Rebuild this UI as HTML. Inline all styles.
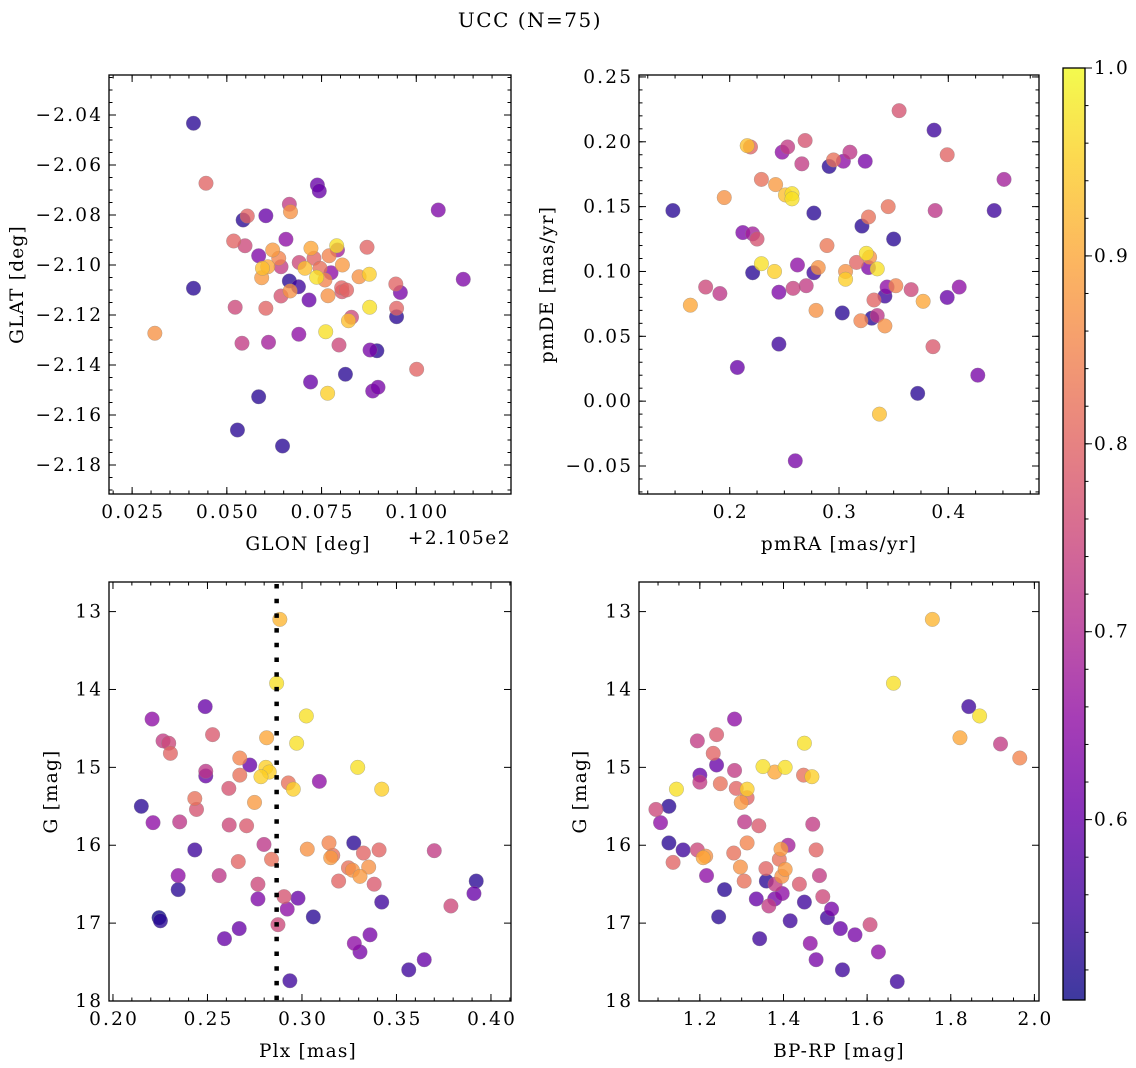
<!DOCTYPE html>
<html><head><meta charset="utf-8"><style>
body{margin:0;background:#fff}
svg{display:block}
svg text{font-family:"DejaVu Serif","Liberation Serif",serif}
</style></head><body>
<svg id="fig" width="1136" height="1068" viewBox="0 0 1136 1068" xmlns="http://www.w3.org/2000/svg">
<defs>
<linearGradient id="plasma" x1="0" y1="1" x2="0" y2="0">
<stop offset="0" stop-color="#0d0887"/><stop offset="0.1" stop-color="#41049d"/><stop offset="0.2" stop-color="#6a00a8"/><stop offset="0.3" stop-color="#8f0da4"/><stop offset="0.4" stop-color="#b12a90"/><stop offset="0.5" stop-color="#cc4778"/><stop offset="0.6" stop-color="#e16462"/><stop offset="0.7" stop-color="#f2844b"/><stop offset="0.8" stop-color="#fca636"/><stop offset="0.9" stop-color="#fcce25"/><stop offset="1" stop-color="#f0f921"/>
</linearGradient>
</defs>
<text x="530" y="27" font-size="20" letter-spacing="1.5" text-anchor="middle" font-family="DejaVu Serif, Liberation Serif, serif">UCC (N=75)</text>
</svg>
<script>
// ---------- data ----------
const cMin = 0.504, cMax = 1.0;
// Panel 1: GLON offset (from 210.5) vs GLAT
const p1x = [.0412,.0445,.0310,.0412,.0543,.0554,.0603,.0665,.0668,.0739,.0744,.1058,.0518,.0548,.0656,.0584,.0621,.0637,.0643,.0594,.0608,.0592,.0665,.0689,.0667,.0643,.0691,.0706,.0722,.0730,.0737,.0746,.0759,.0775,.0770,.0790,.0792,.0805,.0717,.0767,.0803,.0816,.0804,.0849,.0876,.0870,.0946,.0958,.0948,.0948,.1124,.0522,.0603,.0877,.0829,.0821,.0540,.0610,.0690,.0761,.0796,.0878,.0896,.1001,.0813,.0721,.0766,.0885,.0899,.0584,.0528,.0647];
const p1y = [-2.0433,-2.0673,-2.1273,-2.1093,-2.082,-2.0804,-2.0803,-2.0757,-2.0787,-2.068,-2.0704,-2.078,-2.0904,-2.0923,-2.0897,-2.0963,-2.094,-2.0973,-2.1007,-2.1013,-2.1007,-2.1051,-2.1064,-2.1087,-2.1104,-2.1124,-2.099,-2.1013,-2.0933,-2.0973,-2.1049,-2.1013,-2.106,-2.1031,-2.0963,-2.0923,-2.094,-2.1,-2.114,-2.1123,-2.1091,-2.11,-2.1107,-2.1047,-2.1037,-2.0929,-2.1076,-2.111,-2.1173,-2.1207,-2.1057,-2.1169,-2.1173,-2.1169,-2.1209,-2.1223,-2.1313,-2.1309,-2.1277,-2.1267,-2.132,-2.134,-2.1343,-2.1417,-2.1437,-2.1468,-2.1513,-2.1504,-2.1489,-2.1527,-2.166,-2.1724];
const p1c = [.53,.8,.87,.53,.53,.8,.6,.73,.87,.6,.6,.63,.8,.75,.65,.63,.88,.85,.73,.93,.9,.88,.53,.55,.87,.77,.75,.93,.9,.8,.97,.82,.85,.65,.85,.97,.68,.88,.6,.87,.8,.8,.78,.87,.95,.8,.8,.62,.8,.53,.63,.75,.8,.97,.75,.93,.73,.68,.65,.97,.75,.62,.53,.8,.53,.6,.95,.62,.62,.53,.53,.53];
// Panel 2: pmRA vs pmDE
const p2x = [.148,.164,.178,.191,.195,.207,.212,.219,.216,.221,.221,.225,.229,.229,.241,.242,.245,.245,.248,.253,.251,.257,.257,.258,.260,.262,.266,.269,.270,.277,.277,.281,.279,.289,.291,.295,.304,.303,.306,.306,.310,.316,.320,.321,.324,.325,.327,.327,.328,.330,.332,.335,.335,.337,.342,.342,.344,.345,.350,.352,.355,.366,.372,.377,.386,.387,.388,.399,.399,.410,.427,.442,.451];
const p2y = [.147,.074,.088,.083,.157,.026,.130,.196,.197,.099,.129,.125,.171,.106,.100,.167,.084,.044,.192,.196,.159,.160,.156,.087,-.046,.105,.183,.201,.089,.145,.099,.103,.070,.120,.181,.186,.185,.068,.100,.094,.192,.107,.062,.135,.185,.114,.142,.103,.111,.064,.078,.066,.102,-.010,.058,.081,.088,.150,.125,.089,.224,.086,.006,.077,.042,.209,.147,.080,.190,.088,.020,.147,.171];
const p2c = [.53,.9,.75,.72,.87,.6,.63,.8,.93,.53,.68,.77,.82,.97,.95,.88,.63,.55,.65,.73,.93,.97,.97,.74,.62,.65,.73,.77,.73,.53,.55,.87,.87,.83,.53,.82,.65,.53,.87,.95,.72,.8,.85,.53,.62,.97,.82,.63,.87,.53,.8,.72,.97,.93,.87,.55,.65,.82,.53,.85,.77,.75,.53,.9,.78,.55,.72,.6,.8,.65,.62,.55,.68];
// Panel 3: Plx vs G
const p3x = [.2883,.2866,.2488,.2207,.3023,.2527,.2265,.2295,.2304,.2813,.2972,.2671,.2724,.2809,.2827,.2783,.2491,.2491,.2671,.2928,.2954,.3092,.3295,.3422,.2613,.2433,.2442,.2749,.2150,.2212,.2353,.2615,.2707,.2799,.2433,.2663,.2839,.3028,.3143,.3163,.3152,.3274,.3325,.3408,.3700,.3246,.3267,.3353,.3307,.3194,.3382,.3922,.3910,.2345,.2562,.2767,.2345,.2767,.2905,.2979,.2922,.3422,.3788,.2244,.2251,.3060,.2873,.2668,.2590,.3360,.3277,.3307,.3647,.3565,.2936];
const p3y = [13.10,13.92,14.22,14.38,14.34,14.58,14.66,14.69,14.82,14.62,14.69,14.88,14.97,15.00,15.06,15.12,15.05,15.11,15.10,15.20,15.28,15.18,15.00,15.28,15.27,15.40,15.54,15.45,15.50,15.71,15.70,15.74,15.75,15.99,16.06,16.21,16.18,16.05,15.97,16.13,16.16,15.97,16.10,16.06,16.07,16.29,16.32,16.28,16.40,16.46,16.50,16.46,16.62,16.39,16.39,16.50,16.57,16.69,16.66,16.68,16.82,16.73,16.78,16.93,16.97,16.92,17.02,17.07,17.20,17.15,17.26,17.37,17.47,17.60,17.74];
const p3c = [.92,.97,.6,.65,.97,.78,.73,.75,.8,.9,.97,.85,.6,.95,.95,.95,.72,.6,.82,.82,.95,.65,.97,.95,.77,.82,.77,.88,.53,.65,.72,.75,.78,.72,.55,.8,.82,.87,.85,.82,.88,.53,.8,.8,.73,.82,.87,.87,.88,.8,.78,.53,.6,.65,.72,.75,.53,.63,.77,.6,.65,.55,.75,.5,.53,.53,.75,.6,.6,.62,.65,.62,.6,.55,.55];
const plxMean = 0.2866;
// Panel 4: BP-RP vs G
const p4x = [1.756,1.663,1.843,1.869,1.822,1.919,1.965,1.283,1.194,1.240,1.232,1.240,1.450,1.351,1.379,1.404,1.448,1.468,1.200,1.200,1.283,1.249,1.144,1.287,1.313,1.313,1.299,1.126,1.095,1.106,1.307,1.341,1.470,1.126,1.160,1.194,1.214,1.208,1.136,1.216,1.281,1.313,1.297,1.306,1.358,1.411,1.394,1.390,1.404,1.396,1.478,1.486,1.359,1.380,1.438,1.259,1.335,1.379,1.397,1.365,1.450,1.494,1.515,1.245,1.416,1.505,1.536,1.571,1.607,1.343,1.464,1.478,1.627,1.541,1.672];
const p4y = [13.10,13.92,14.22,14.34,14.62,14.70,14.88,14.38,14.66,14.58,14.82,14.97,14.69,14.99,15.06,15.00,15.10,15.12,15.10,15.19,15.04,15.21,15.28,15.27,15.28,15.39,15.45,15.50,15.54,15.71,15.70,15.75,15.73,15.97,16.06,16.06,16.14,16.16,16.22,16.39,16.10,15.97,16.28,16.46,16.30,16.00,16.05,16.18,16.31,16.40,16.06,16.39,16.46,16.50,16.50,16.57,16.69,16.69,16.62,16.78,16.73,16.66,16.82,16.92,16.97,16.93,17.07,17.15,17.02,17.20,17.26,17.47,17.37,17.60,17.75];
const p4c = [.92,.97,.55,.97,.9,.73,.85,.65,.73,.78,.8,.6,.97,.97,.9,.97,.82,.95,.6,.73,.73,.82,.97,.8,.95,.8,.88,.53,.75,.65,.72,.78,.73,.53,.55,.75,.87,.9,.8,.65,.82,.85,.87,.82,.8,.68,.88,.82,.88,.87,.8,.73,.53,.73,.78,.53,.6,.62,.65,.73,.55,.75,.62,.53,.55,.55,.6,.62,.75,.55,.65,.62,.65,.55,.55];
// ticks
const p1xTicks = [0.025,0.050,0.075,0.100];
const p1yTicks = [-2.04,-2.06,-2.08,-2.10,-2.12,-2.14,-2.16,-2.18];
const p2xTicks = [0.2,0.3,0.4];
const p2yTicks = [0.25,0.20,0.15,0.10,0.05,0.00,-0.05];
const p3xTicks = [0.20,0.25,0.30,0.35,0.40];
const gTicks = [13,14,15,16,17,18];
const p4xTicks = [1.2,1.4,1.6,1.8,2.0];
const cbTicks = [0.6,0.7,0.8,0.9,1.0];

// ---------- helpers ----------
const NS = "http://www.w3.org/2000/svg";
const svg = document.getElementById('fig');
const FF = "DejaVu Serif, Liberation Serif, serif";
const FS = 18.5;
const LS = 2.2;
function mk(tag, attrs, parent){const e=document.createElementNS(NS,tag);for(const k in attrs)e.setAttribute(k,attrs[k]);if(tag==='text'){e.setAttribute('font-family',FF);if(!('letter-spacing' in attrs))e.setAttribute('letter-spacing',LS);}(parent||svg).appendChild(e);return e;}
const stops=[[13,8,135],[65,4,157],[106,0,168],[143,13,164],[177,42,144],[204,71,120],[225,100,98],[242,132,75],[252,166,54],[252,206,37],[240,249,33]];
function plasma(v){let t=(v-cMin)/(cMax-cMin);t=Math.max(0,Math.min(1,t))*10;const i=Math.min(9,Math.floor(t)),f=t-i;const a=stops[i],b=stops[i+1];return `rgb(${Math.round(a[0]+(b[0]-a[0])*f)},${Math.round(a[1]+(b[1]-a[1])*f)},${Math.round(a[2]+(b[2]-a[2])*f)})`;}
function fmt(v,d){const s=Math.abs(v).toFixed(d);return (v<-1e-9?'\u2212':'')+s;}

function panel(o){
  const g=mk('g',{});
  
  
  const sx=v=>o.L+(v-o.x0)/(o.x1-o.x0)*(o.R-o.L);
  const sy=v=>o.B-(v-o.y0)/(o.y1-o.y0)*(o.B-o.T);
  const pg=mk('g',{},g);
  
  
  const order=o.xs.map((_,i)=>i).sort((a,b)=>o.cs[a]-o.cs[b]);
  order.forEach(i=>{
    const c=mk('circle',{cx:sx(o.xs[i]),cy:sy(o.ys[i]),r:7.3,fill:plasma(o.cs[i]),'fill-opacity':0.78,stroke:'#888','stroke-width':0.5,'stroke-opacity':0.6},pg);
    
    
  });
  if(o.extra)o.extra(g,sx,sy);
  const fr=mk('rect',{x:o.L,y:o.T,width:o.R-o.L,height:o.B-o.T,fill:'none',stroke:'#000','stroke-width':1.3},g);
  
  
  const tg=mk('g',{stroke:'#000','stroke-width':1},g);
  for(let v=Math.ceil(o.x0/o.xm-1e-6)*o.xm; v<=o.x1+1e-9; v+=o.xm){const x=sx(v);mk('line',{x1:x,x2:x,y1:o.B,y2:o.B-3.5},tg);mk('line',{x1:x,x2:x,y1:o.T,y2:o.T+3.5},tg);}
  for(let v=Math.ceil(o.y0/o.ym-1e-6)*o.ym; v<=o.y1+1e-9; v+=o.ym){const y=sy(v);mk('line',{x1:o.L,x2:o.L+3.5,y1:y,y2:y},tg);mk('line',{x1:o.R,x2:o.R-3.5,y1:y,y2:y},tg);}
  o.xt.forEach(v=>{const x=sx(v);mk('line',{x1:x,x2:x,y1:o.B,y2:o.B-7},tg);mk('line',{x1:x,x2:x,y1:o.T,y2:o.T+7},tg);
    const t=mk('text',{x:x+LS/2,y:o.B+24,'font-size':FS,'text-anchor':'middle'},g);t.textContent=fmt(v,o.xd);
    
    });
  o.yt.forEach(v=>{const y=sy(v);mk('line',{x1:o.L,x2:o.L+7,y1:y,y2:y},tg);mk('line',{x1:o.R,x2:o.R-7,y1:y,y2:y},tg);
    const t=mk('text',{x:o.L-8+LS,y:y+6,'font-size':FS,'text-anchor':'end'},g);t.textContent=fmt(v,o.yd);
    
    });
  const xl=mk('text',{x:o.xlx,y:o.B+56,'font-size':FS,'text-anchor':'middle','letter-spacing':1.2},g);xl.textContent=o.xlab;
  
  
  const yl=mk('text',{x:0,y:0,'font-size':FS,'text-anchor':'middle','letter-spacing':1.2,transform:`translate(${o.ylx},${(o.T+o.B)/2}) rotate(-90)`},g);yl.textContent=o.ylab;
  
  
}

panel({name:'panel-glon-glat',L:109,R:511,T:75,B:494,x0:0.0189,x1:0.1250,y0:-2.1916,y1:-2.024,xm:0.005,ym:0.005,xt:p1xTicks,yt:p1yTicks,xd:3,yd:2,xs:p1x,ys:p1y,cs:p1c,xlab:'GLON [deg]',xlx:308,ylab:'GLAT [deg]',ylx:23,
  extra:(g)=>{const t=mk('text',{x:511,y:544,'font-size':FS,'text-anchor':'end','letter-spacing':1.5},g);t.textContent='+2.105e2';
    
    }});
panel({name:'panel-pm',L:639,R:1039,T:75,B:494,x0:0.117,x1:0.483,y0:-0.0716,y1:0.2515,xm:0.025,ym:0.01,xt:p2xTicks,yt:p2yTicks,xd:1,yd:2,xs:p2x,ys:p2y,cs:p2c,xlab:'pmRA [mas/yr]',xlx:839,ylab:'pmDE [mas/yr]',ylx:553});
panel({name:'panel-plx-g',L:109,R:511,T:582,B:1001,x0:0.1979,x1:0.4106,y0:18.0,y1:12.62,xm:0.01,ym:0.2,xt:p3xTicks,yt:gTicks,xd:2,yd:0,xs:p3x,ys:p3y,cs:p3c,xlab:'Plx [mas]',xlx:308,ylab:'G [mag]',ylx:57,
  extra:(g,sx)=>{const l=mk('line',{x1:sx(plxMean),x2:sx(plxMean),y1:584,y2:1001,stroke:'#000','stroke-width':4.5,'stroke-dasharray':'4.5 10.2'},g);
    
    }});
panel({name:'panel-cmd',L:639,R:1039,T:582,B:1001,x0:1.0545,x1:2.011,y0:18.0,y1:12.62,xm:0.05,ym:0.2,xt:p4xTicks,yt:gTicks,xd:1,yd:0,xs:p4x,ys:p4y,cs:p4c,xlab:'BP-RP [mag]',xlx:839,ylab:'G [mag]',ylx:586});

// colorbar
(function(){
  const L=1063,R=1085,T=68,B=1000;
  const g=mk('g',{});
  
  
  mk('rect',{x:L,y:T,width:R-L,height:B-T,fill:'url(#plasma)','fill-opacity':0.8},g);
  mk('rect',{x:L,y:T,width:R-L,height:B-T,fill:'none',stroke:'#000','stroke-width':1.3},g);
  const cy=v=>B-(v-cMin)/(cMax-cMin)*(B-T);
  for(let v=0.52;v<=1.0001;v+=0.02){mk('line',{x1:R,x2:R+3.5,y1:cy(v),y2:cy(v),stroke:'#000','stroke-width':1},g);}
  cbTicks.forEach(v=>{mk('line',{x1:R,x2:R+7,y1:cy(v),y2:cy(v),stroke:'#000','stroke-width':1},g);
    const t=mk('text',{x:R+9,y:cy(v)+6,'font-size':FS},g);t.textContent=v.toFixed(1);
    
    });
})();
</script>
</body></html>
